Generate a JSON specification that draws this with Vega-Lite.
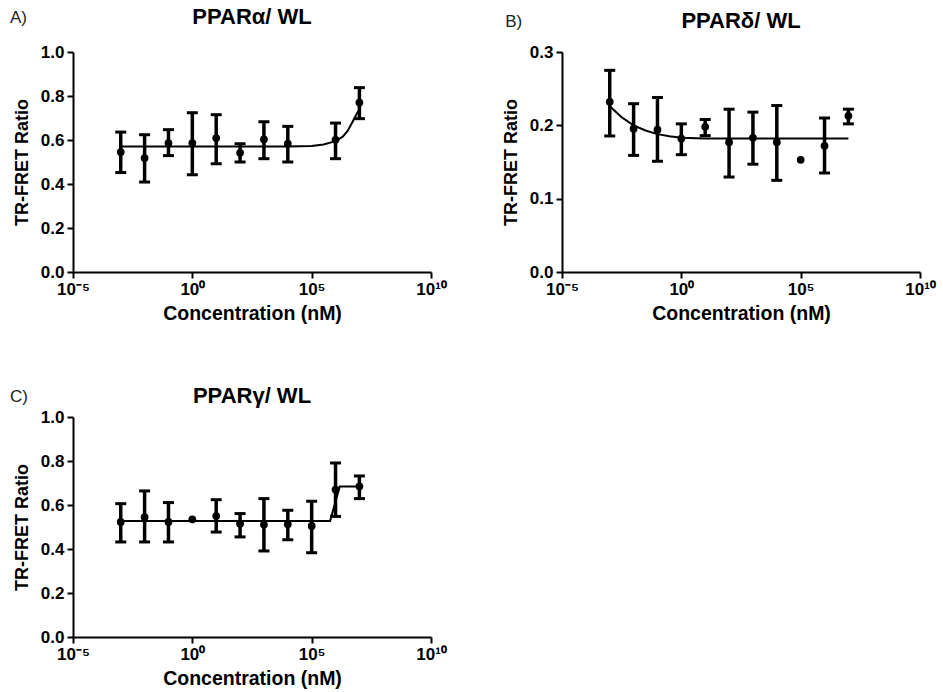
{
  "$schema": "https://vega.github.io/schema/vega-lite/v6.json",
  "background": "white",
  "padding": {"left": 10, "top": 5, "right": 5, "bottom": 5},
  "config": {
    "font": "Liberation Sans",
    "view": {"stroke": null},
    "axis": {
      "domainColor": "black", "domainWidth": 2, "tickColor": "black", "tickWidth": 2, "tickSize": 6,
      "labelFont": "Liberation Sans", "labelFontSize": 17, "labelFontWeight": "bold", "labelColor": "black",
      "titleFont": "Liberation Sans", "titleFontSize": 18, "titleFontWeight": "bold", "titleColor": "black",
      "grid": false, "labelFlush": false, "labelOverlap": false
    },
    "axisY": {"titlePadding": 9, "labelPadding": 3},
    "axisX": {"titlePadding": 7, "labelPadding": 3, "titleFontSize": 19.5},
    "title": {"font": "Liberation Sans", "fontSize": 22, "fontWeight": "bold", "color": "black", "offset": -20}
  },
  "datasets": {
    "pts": [
      {"panel": "A", "conc": 0.001, "ratio": 0.545, "lo": 0.452, "hi": 0.636},
      {"panel": "A", "conc": 0.01, "ratio": 0.518, "lo": 0.409, "hi": 0.624},
      {"panel": "A", "conc": 0.1, "ratio": 0.586, "lo": 0.529, "hi": 0.647},
      {"panel": "A", "conc": 1, "ratio": 0.586, "lo": 0.442, "hi": 0.724},
      {"panel": "A", "conc": 10, "ratio": 0.609, "lo": 0.492, "hi": 0.715},
      {"panel": "A", "conc": 100, "ratio": 0.542, "lo": 0.5, "hi": 0.583},
      {"panel": "A", "conc": 1000, "ratio": 0.603, "lo": 0.515, "hi": 0.683},
      {"panel": "A", "conc": 10000, "ratio": 0.583, "lo": 0.5, "hi": 0.662},
      {"panel": "A", "conc": 1000000, "ratio": 0.601, "lo": 0.515, "hi": 0.677},
      {"panel": "A", "conc": 10000000, "ratio": 0.77, "lo": 0.697, "hi": 0.838},
      {"panel": "B", "conc": 0.001, "ratio": 0.232, "lo": 0.1855, "hi": 0.275},
      {"panel": "B", "conc": 0.01, "ratio": 0.1955, "lo": 0.159, "hi": 0.2295},
      {"panel": "B", "conc": 0.1, "ratio": 0.194, "lo": 0.151, "hi": 0.238},
      {"panel": "B", "conc": 1, "ratio": 0.182, "lo": 0.16, "hi": 0.202},
      {"panel": "B", "conc": 10, "ratio": 0.198, "lo": 0.186, "hi": 0.208},
      {"panel": "B", "conc": 100, "ratio": 0.177, "lo": 0.1295, "hi": 0.222},
      {"panel": "B", "conc": 1000, "ratio": 0.183, "lo": 0.147, "hi": 0.218},
      {"panel": "B", "conc": 10000, "ratio": 0.177, "lo": 0.125, "hi": 0.227},
      {"panel": "B", "conc": 100000, "ratio": 0.153, "lo": null, "hi": null},
      {"panel": "B", "conc": 1000000, "ratio": 0.172, "lo": 0.135, "hi": 0.21},
      {"panel": "B", "conc": 10000000, "ratio": 0.213, "lo": 0.202, "hi": 0.222},
      {"panel": "C", "conc": 0.001, "ratio": 0.523, "lo": 0.432, "hi": 0.606},
      {"panel": "C", "conc": 0.01, "ratio": 0.545, "lo": 0.432, "hi": 0.664},
      {"panel": "C", "conc": 0.1, "ratio": 0.523, "lo": 0.432, "hi": 0.611},
      {"panel": "C", "conc": 1, "ratio": 0.535, "lo": null, "hi": null},
      {"panel": "C", "conc": 10, "ratio": 0.55, "lo": 0.477, "hi": 0.624},
      {"panel": "C", "conc": 100, "ratio": 0.515, "lo": 0.455, "hi": 0.561},
      {"panel": "C", "conc": 1000, "ratio": 0.511, "lo": 0.391, "hi": 0.629},
      {"panel": "C", "conc": 10000, "ratio": 0.512, "lo": 0.442, "hi": 0.576},
      {"panel": "C", "conc": 100000, "ratio": 0.505, "lo": 0.383, "hi": 0.617},
      {"panel": "C", "conc": 1000000, "ratio": 0.67, "lo": 0.548, "hi": 0.791},
      {"panel": "C", "conc": 10000000, "ratio": 0.685, "lo": 0.629, "hi": 0.732}
    ],
    "fit": [
      {"panel": "A", "conc": 0.001, "ratio": 0.57},
      {"panel": "A", "conc": 1000, "ratio": 0.57},
      {"panel": "A", "conc": 10000, "ratio": 0.571},
      {"panel": "A", "conc": 100000, "ratio": 0.573},
      {"panel": "A", "conc": 316000, "ratio": 0.58},
      {"panel": "A", "conc": 1000000, "ratio": 0.595},
      {"panel": "A", "conc": 2000000, "ratio": 0.615},
      {"panel": "A", "conc": 3160000, "ratio": 0.64},
      {"panel": "A", "conc": 5000000, "ratio": 0.68},
      {"panel": "A", "conc": 7000000, "ratio": 0.71},
      {"panel": "A", "conc": 10000000, "ratio": 0.74},
      {"panel": "B", "conc": 0.001, "ratio": 0.226},
      {"panel": "B", "conc": 0.00316, "ratio": 0.211},
      {"panel": "B", "conc": 0.01, "ratio": 0.2},
      {"panel": "B", "conc": 0.0316, "ratio": 0.193},
      {"panel": "B", "conc": 0.1, "ratio": 0.188},
      {"panel": "B", "conc": 0.316, "ratio": 0.185},
      {"panel": "B", "conc": 1, "ratio": 0.183},
      {"panel": "B", "conc": 10, "ratio": 0.182},
      {"panel": "B", "conc": 10000000, "ratio": 0.182},
      {"panel": "C", "conc": 0.001, "ratio": 0.527},
      {"panel": "C", "conc": 590000, "ratio": 0.527},
      {"panel": "C", "conc": 1500000, "ratio": 0.684},
      {"panel": "C", "conc": 10000000, "ratio": 0.684}
    ]
  },
  "bounds": "flush",
  "columns": 2,
  "spacing": {"row": 145, "column": 131},
  "concat": [
    {
      "width": 358, "height": 220,
      "title": "PPARα/ WL",
      "layer": [
        {
          "data": {"name": "fit"},
          "transform": [{"filter": "datum.panel == 'A'"}],
          "mark": {"type": "line", "color": "black", "strokeWidth": 2},
          "encoding": {
            "x": {"field": "conc", "type": "quantitative", "title": "Concentration (nM)", "scale": {"type": "log", "domain": [0.00001, 10000000000], "nice": false}, "axis": {"values": [0.00001, 1, 100000, 10000000000], "labelExpr": "datum.value < 0.0001 ? '10⁻⁵' : datum.value < 10 ? '10⁰' : datum.value < 1000000 ? '10⁵' : '10¹⁰'"}},
            "y": {"field": "ratio", "type": "quantitative", "title": "TR-FRET Ratio", "scale": {"domain": [0, 1], "nice": false}, "axis": {"values": [0, 0.2, 0.4, 0.6, 0.8, 1.0], "format": ".1f"}}
          }
        },
        {
          "data": {"name": "pts"},
          "transform": [{"filter": "datum.panel == 'A' && datum.lo != null"}],
          "mark": {"type": "errorbar", "color": "black", "opacity": 1, "ticks": {"size": 11, "thickness": 3, "color": "black", "opacity": 1}, "rule": {"strokeWidth": 3.5, "color": "black", "opacity": 1}},
          "encoding": {
            "x": {"field": "conc", "type": "quantitative", "title": "Concentration (nM)"},
            "y": {"field": "lo", "type": "quantitative", "title": "TR-FRET Ratio"},
            "y2": {"field": "hi"}
          }
        },
        {
          "data": {"name": "pts"},
          "transform": [{"filter": "datum.panel == 'A'"}],
          "mark": {"type": "circle", "size": 60, "color": "black", "opacity": 1},
          "encoding": {
            "x": {"field": "conc", "type": "quantitative", "title": "Concentration (nM)"},
            "y": {"field": "ratio", "type": "quantitative", "title": "TR-FRET Ratio"}
          }
        },
        {
          "data": {"values": [{"label": "A)"}]},
          "mark": {"type": "text", "align": "left", "baseline": "middle", "fontSize": 17, "fontWeight": "normal", "color": "#222"},
          "encoding": {
            "x": {"datum": 0.000000023, "type": "quantitative", "title": "Concentration (nM)"},
            "y": {"datum": 1.155, "type": "quantitative", "title": "TR-FRET Ratio"},
            "text": {"field": "label"}
          }
        }
      ]
    },
    {
      "width": 358, "height": 220,
      "title": "PPARδ/ WL",
      "layer": [
        {
          "data": {"name": "fit"},
          "transform": [{"filter": "datum.panel == 'B'"}],
          "mark": {"type": "line", "color": "black", "strokeWidth": 2},
          "encoding": {
            "x": {"field": "conc", "type": "quantitative", "title": "Concentration (nM)", "scale": {"type": "log", "domain": [0.00001, 10000000000], "nice": false}, "axis": {"values": [0.00001, 1, 100000, 10000000000], "labelExpr": "datum.value < 0.0001 ? '10⁻⁵' : datum.value < 10 ? '10⁰' : datum.value < 1000000 ? '10⁵' : '10¹⁰'"}},
            "y": {"field": "ratio", "type": "quantitative", "title": "TR-FRET Ratio", "scale": {"domain": [0, 0.3], "nice": false}, "axis": {"values": [0, 0.1, 0.2, 0.3], "format": ".1f"}}
          }
        },
        {
          "data": {"name": "pts"},
          "transform": [{"filter": "datum.panel == 'B' && datum.lo != null"}],
          "mark": {"type": "errorbar", "color": "black", "opacity": 1, "ticks": {"size": 11, "thickness": 3, "color": "black", "opacity": 1}, "rule": {"strokeWidth": 3.5, "color": "black", "opacity": 1}},
          "encoding": {
            "x": {"field": "conc", "type": "quantitative", "title": "Concentration (nM)"},
            "y": {"field": "lo", "type": "quantitative", "title": "TR-FRET Ratio"},
            "y2": {"field": "hi"}
          }
        },
        {
          "data": {"name": "pts"},
          "transform": [{"filter": "datum.panel == 'B'"}],
          "mark": {"type": "circle", "size": 60, "color": "black", "opacity": 1},
          "encoding": {
            "x": {"field": "conc", "type": "quantitative", "title": "Concentration (nM)"},
            "y": {"field": "ratio", "type": "quantitative", "title": "TR-FRET Ratio"}
          }
        },
        {
          "data": {"values": [{"label": "B)"}]},
          "mark": {"type": "text", "align": "left", "baseline": "middle", "fontSize": 17, "fontWeight": "normal", "color": "#222"},
          "encoding": {
            "x": {"datum": 0.000000042, "type": "quantitative", "title": "Concentration (nM)"},
            "y": {"datum": 0.341, "type": "quantitative", "title": "TR-FRET Ratio"},
            "text": {"field": "label"}
          }
        }
      ]
    },
    {
      "width": 358, "height": 220,
      "title": "PPARγ/ WL",
      "layer": [
        {
          "data": {"name": "fit"},
          "transform": [{"filter": "datum.panel == 'C'"}],
          "mark": {"type": "line", "color": "black", "strokeWidth": 2},
          "encoding": {
            "x": {"field": "conc", "type": "quantitative", "title": "Concentration (nM)", "scale": {"type": "log", "domain": [0.00001, 10000000000], "nice": false}, "axis": {"values": [0.00001, 1, 100000, 10000000000], "labelExpr": "datum.value < 0.0001 ? '10⁻⁵' : datum.value < 10 ? '10⁰' : datum.value < 1000000 ? '10⁵' : '10¹⁰'"}},
            "y": {"field": "ratio", "type": "quantitative", "title": "TR-FRET Ratio", "scale": {"domain": [0, 1], "nice": false}, "axis": {"values": [0, 0.2, 0.4, 0.6, 0.8, 1.0], "format": ".1f"}}
          }
        },
        {
          "data": {"name": "pts"},
          "transform": [{"filter": "datum.panel == 'C' && datum.lo != null"}],
          "mark": {"type": "errorbar", "color": "black", "opacity": 1, "ticks": {"size": 11, "thickness": 3, "color": "black", "opacity": 1}, "rule": {"strokeWidth": 3.5, "color": "black", "opacity": 1}},
          "encoding": {
            "x": {"field": "conc", "type": "quantitative", "title": "Concentration (nM)"},
            "y": {"field": "lo", "type": "quantitative", "title": "TR-FRET Ratio"},
            "y2": {"field": "hi"}
          }
        },
        {
          "data": {"name": "pts"},
          "transform": [{"filter": "datum.panel == 'C'"}],
          "mark": {"type": "circle", "size": 60, "color": "black", "opacity": 1},
          "encoding": {
            "x": {"field": "conc", "type": "quantitative", "title": "Concentration (nM)"},
            "y": {"field": "ratio", "type": "quantitative", "title": "TR-FRET Ratio"}
          }
        },
        {
          "data": {"values": [{"label": "C)"}]},
          "mark": {"type": "text", "align": "left", "baseline": "middle", "fontSize": 17, "fontWeight": "normal", "color": "#222"},
          "encoding": {
            "x": {"datum": 0.000000023, "type": "quantitative", "title": "Concentration (nM)"},
            "y": {"datum": 1.09, "type": "quantitative", "title": "TR-FRET Ratio"},
            "text": {"field": "label"}
          }
        }
      ]
    }
  ]
}
